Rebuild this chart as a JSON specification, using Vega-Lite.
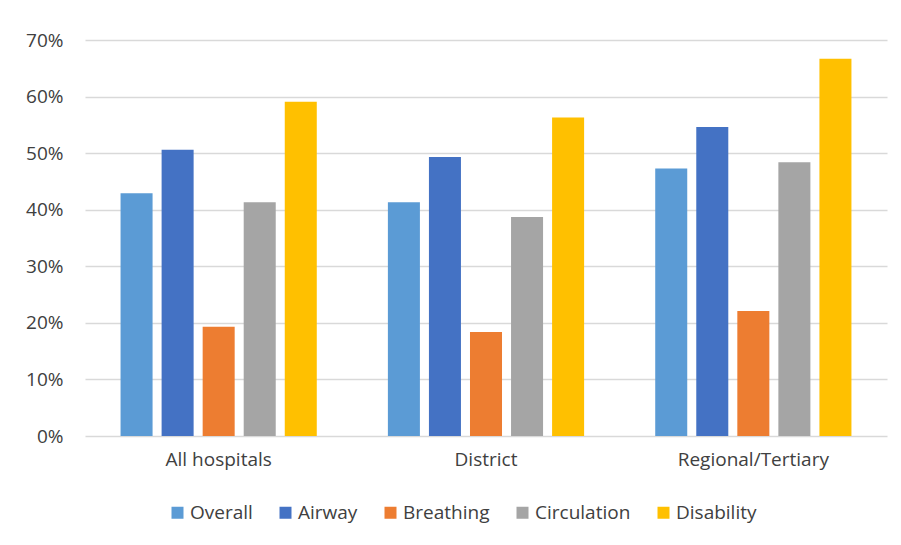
{
  "$schema": "https://vega.github.io/schema/vega-lite/v6.json",
  "width": 802,
  "height": 396,
  "autosize": {"type": "none"},
  "padding": {"left": 85, "top": 40, "right": 14, "bottom": 109},
  "background": "white",
  "data": {
    "values": [
      {"group": "All hospitals", "measure": "Overall", "value": 0.429},
      {"group": "All hospitals", "measure": "Airway", "value": 0.506},
      {"group": "All hospitals", "measure": "Breathing", "value": 0.193},
      {"group": "All hospitals", "measure": "Circulation", "value": 0.413},
      {"group": "All hospitals", "measure": "Disability", "value": 0.591},
      {"group": "District", "measure": "Overall", "value": 0.413},
      {"group": "District", "measure": "Airway", "value": 0.493},
      {"group": "District", "measure": "Breathing", "value": 0.184},
      {"group": "District", "measure": "Circulation", "value": 0.387},
      {"group": "District", "measure": "Disability", "value": 0.563},
      {"group": "Regional/Tertiary", "measure": "Overall", "value": 0.473},
      {"group": "Regional/Tertiary", "measure": "Airway", "value": 0.546},
      {"group": "Regional/Tertiary", "measure": "Breathing", "value": 0.221},
      {"group": "Regional/Tertiary", "measure": "Circulation", "value": 0.484},
      {"group": "Regional/Tertiary", "measure": "Disability", "value": 0.667}
    ]
  },
  "mark": {"type": "bar"},
  "encoding": {
    "x": {
      "field": "group",
      "type": "nominal",
      "sort": ["All hospitals", "District", "Regional/Tertiary"],
      "scale": {"paddingInner": 0.266, "paddingOuter": 0.133},
      "axis": {
        "title": null,
        "labelAngle": 0,
        "domain": false,
        "ticks": false,
        "labelPadding": 14,
        "labelFontSize": 19,
        "labelFont": "Open Sans",
        "labelColor": "#404040"
      }
    },
    "xOffset": {
      "field": "measure",
      "type": "nominal",
      "sort": ["Overall", "Airway", "Breathing", "Circulation", "Disability"],
      "scale": {"paddingInner": 0.22, "paddingOuter": 0}
    },
    "y": {
      "field": "value",
      "type": "quantitative",
      "scale": {"domain": [0, 0.7]},
      "axis": {
        "title": null,
        "format": ".0%",
        "values": [0, 0.1, 0.2, 0.3, 0.4, 0.5, 0.6, 0.7],
        "domain": false,
        "ticks": false,
        "labelPadding": 22,
        "labelFontSize": 19,
        "labelFont": "Open Sans",
        "labelColor": "#404040",
        "gridColor": "#d9d9d9",
        "gridWidth": 1.5
      }
    },
    "color": {
      "field": "measure",
      "type": "nominal",
      "sort": ["Overall", "Airway", "Breathing", "Circulation", "Disability"],
      "scale": {
        "domain": ["Overall", "Airway", "Breathing", "Circulation", "Disability"],
        "range": ["#5b9bd5", "#4472c4", "#ed7d31", "#a5a5a5", "#ffc000"]
      },
      "legend": {
        "title": null,
        "orient": "none",
        "direction": "horizontal",
        "legendX": 83,
        "legendY": 463,
        "symbolType": "square",
        "symbolSize": 144,
        "symbolStrokeWidth": 0,
        "labelFontSize": 19,
        "labelFont": "Open Sans",
        "labelColor": "#404040",
        "labelOffset": 3,
        "columnPadding": 23
      }
    }
  },
  "config": {
    "view": {"stroke": null}
  }
}
